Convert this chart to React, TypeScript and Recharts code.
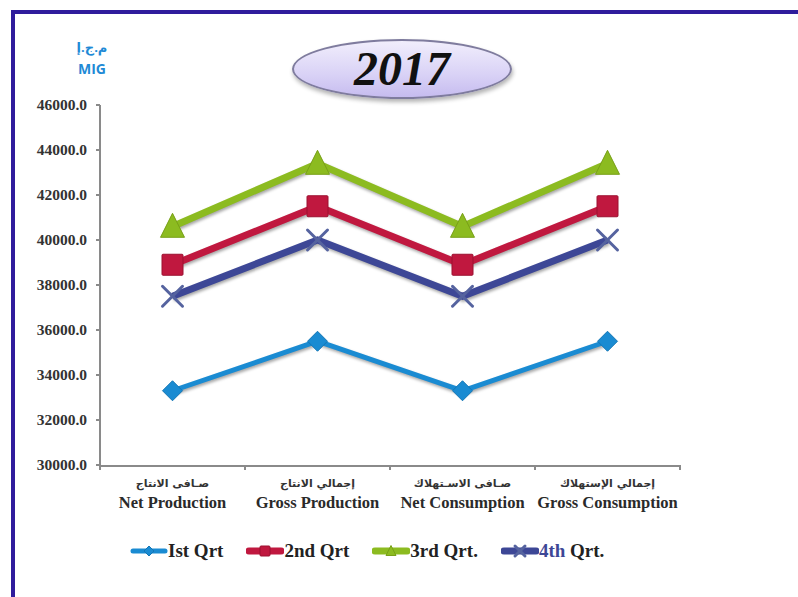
import React from "react";
import { LineChart, Line, XAxis, YAxis } from "recharts";

// categories (Arabic + English label lines)
const categoriesEn = ["Net Production", "Gross Production", "Net Consumption", "Gross Consumption"];
const categoriesAr = ["صـافى الانتاج", "إجمالي الانتاج", "صـافى الاسـتهلاك", "إجمالي الإستهلاك"];

// quarterly values
const q1 = [33300, 35500, 33300, 35500];
const q2 = [38900, 41500, 38900, 41500];
const q3 = [40600, 43400, 40600, 43400];
const q4 = [37500, 40000, 37500, 40000];

const yTicks = [30000, 32000, 34000, 36000, 38000, 40000, 42000, 44000, 46000];
// category boundaries (Excel puts the x ticks between categories)
const boundaryTicks = [-0.5, 0.5, 1.5, 2.5, 3.5];

const chartData = categoriesEn.map((en, i) => ({
  en,
  pos: i,
  q1: q1[i],
  q2: q2[i],
  q3: q3[i],
  q4: q4[i],
}));

const C1 = "#1a8bd2";
const C2 = "#c0183f";
const C3 = "#8cbb20";
const C4 = "#3d4796";
const C4X = "#55639f";
const AXIS = "#8a8a8a";

const serif = "'Liberation Serif', 'Times New Roman', 'DejaVu Serif', serif";

// markers
const DiamondDot = ({ cx, cy, size = 10 }: any) => (
  <path
    d={`M${cx} ${cy - size} L${cx + size} ${cy} L${cx} ${cy + size} L${cx - size} ${cy} Z`}
    fill={C1}
    stroke="#1476b5"
    strokeWidth={1}
  />
);

const SquareDot = ({ cx, cy, size = 10.5 }: any) => (
  <rect x={cx - size} y={cy - size} width={size * 2} height={size * 2} fill={C2} stroke="#9c1030" strokeWidth={1} rx={1} />
);

const TriangleDot = ({ cx, cy, size = 12 }: any) => (
  <path
    d={`M${cx} ${cy - size * 1.1} L${cx + size} ${cy + size * 0.9} L${cx - size} ${cy + size * 0.9} Z`}
    fill={C3}
    stroke="#78a018"
    strokeWidth={1}
  />
);

const CrossDot = ({ cx, cy, size = 10 }: any) => (
  <g stroke={C4X} strokeWidth={3} strokeLinecap="round">
    <line x1={cx - size} y1={cy - size} x2={cx + size} y2={cy + size} />
    <line x1={cx - size} y1={cy + size} x2={cx + size} y2={cy - size} />
  </g>
);

const CategoryTick = ({ x, y, payload }: any) => (
  <g transform={`translate(${x},${y})`}>
    <text
      x={0}
      y={13}
      textAnchor="middle"
      fontFamily="'DejaVu Sans', 'Noto Sans', sans-serif"
      fontSize={11}
      fontWeight="bold"
      fill="#333"
    >
      {categoriesAr[payload.index]}
    </text>
    <text x={0} y={34} textAnchor="middle" fontFamily={serif} fontSize={16.5} fontWeight="bold" fill="#2a2a2a">
      {payload.value}
    </text>
  </g>
);

const ValueTick = ({ x, y, payload }: any) => (
  <text x={x} y={y} dy={5} textAnchor="end" fontFamily={serif} fontSize={15.5} fontWeight="bold" fill="#333">
    {Number(payload.value).toFixed(1)}
  </text>
);

const legendItems = [
  { label: "Ist Qrt", color: C1, Dot: DiamondDot, width: 5, highlight: "" },
  { label: "2nd Qrt", color: C2, Dot: SquareDot, width: 7, highlight: "" },
  { label: "3rd Qrt.", color: C3, Dot: TriangleDot, width: 7, highlight: "" },
  { label: " Qrt.", color: C4, Dot: CrossDot, width: 7, highlight: "4th" },
];

const LegendIcon = ({ color, Dot, width }: any) => (
  <svg width={38} height={22} style={{ display: "block" }}>
    <line x1={3} y1={11} x2={35} y2={11} stroke={color} strokeWidth={width} strokeLinecap="round" />
    <Dot cx={19} cy={11} size={5} />
  </svg>
);

const App: React.FC = () => {
  return (
    <div
      style={{
        position: "fixed",
        left: 0,
        top: 0,
        width: 798,
        height: 597,
        background: "#fff",
        overflow: "hidden",
      }}
    >
      <style>{`.recharts-line-curve { filter: drop-shadow(1px 2px 1.5px rgba(0,0,0,0.35)); }`}</style>
      {/* frame */}
      <div
        style={{
          position: "absolute",
          left: 11,
          top: 10,
          width: 784,
          height: 583,
          borderTop: "4px solid #2f1c9c",
          borderLeft: "4px solid #2f1c9c",
          borderRight: "1px solid #d4d4dc",
          borderBottom: "1px solid #c8c8d0",
        }}
      />

      {/* logo */}
      <div
        style={{
          position: "absolute",
          left: 70,
          top: 36,
          width: 44,
          textAlign: "center",
          color: "#1f8ad6",
          fontFamily: "'Open Sans', 'DejaVu Sans', sans-serif",
          fontWeight: "bold",
          lineHeight: "22px",
        }}
      >
        <div style={{ fontSize: 13 }}>م.ج.إ</div>
        <div style={{ fontSize: 14 }}>MIG</div>
      </div>

      {/* title ellipse */}
      <div
        style={{
          position: "absolute",
          left: 292,
          top: 39,
          width: 216,
          height: 56,
          borderRadius: "50%",
          border: "2px solid #7f7c9e",
          background: "linear-gradient(180deg, #f1eefc 0%, #d9d2f6 60%, #c6bcef 100%)",
          boxShadow: "1px 3px 4px rgba(0,0,0,0.3)",
          display: "flex",
          alignItems: "center",
          justifyContent: "center",
          fontFamily: serif,
          fontStyle: "italic",
          fontWeight: "bold",
          fontSize: 48,
          color: "#111",
          lineHeight: 1,
        }}
      >
        2017
      </div>

      <div style={{ position: "absolute", left: 0, top: 0 }}>
        <LineChart width={798} height={597} data={chartData} margin={{ top: 105, right: 118, bottom: 71, left: 0 }}>
          <XAxis
            xAxisId="bounds"
            dataKey="pos"
            type="number"
            domain={[-0.5, 3.5]}
            allowDataOverflow
            ticks={boundaryTicks}
            interval={0}
            height={1}
            axisLine={false}
            tickLine={{ stroke: AXIS, strokeWidth: 2 }}
            tickSize={5}
            tickFormatter={() => ""}
          />
          <XAxis
            xAxisId="cat"
            dataKey="en"
            scale="band"
            height={60}
            interval={0}
            tickLine={false}
            axisLine={{ stroke: AXIS, strokeWidth: 2 }}
            tick={<CategoryTick />}
          />
          <YAxis
            width={100}
            domain={[30000, 46000]}
            ticks={yTicks}
            axisLine={{ stroke: AXIS, strokeWidth: 2 }}
            tickLine={{ stroke: AXIS, strokeWidth: 2 }}
            tickSize={4}
            tickMargin={9}
            tick={<ValueTick />}
          />
          <Line xAxisId="cat" dataKey="q1" name="Ist Qrt" stroke={C1} strokeWidth={5} dot={<DiamondDot />} activeDot={false} isAnimationActive={false} />
          <Line xAxisId="cat" dataKey="q2" name="2nd Qrt" stroke={C2} strokeWidth={7} dot={<SquareDot />} activeDot={false} isAnimationActive={false} />
          <Line xAxisId="cat" dataKey="q3" name="3rd Qrt." stroke={C3} strokeWidth={7} dot={<TriangleDot />} activeDot={false} isAnimationActive={false} />
          <Line xAxisId="cat" dataKey="q4" name="4th Qrt." stroke={C4} strokeWidth={7} dot={<CrossDot />} activeDot={false} isAnimationActive={false} />
        </LineChart>
      </div>

      {/* legend */}
      <div
        style={{
          position: "absolute",
          left: 130,
          top: 540,
          display: "flex",
          alignItems: "center",
          gap: 23,
          fontFamily: serif,
          fontWeight: "bold",
          fontSize: 19,
          color: "#222",
        }}
      >
        {legendItems.map((item) => (
          <div key={item.label} style={{ display: "flex", alignItems: "center" }}>
            <LegendIcon color={item.color} Dot={item.Dot} width={item.width} />
            <span>
              {item.highlight && <span style={{ color: C4 }}>{item.highlight}</span>}
              {item.label}
            </span>
          </div>
        ))}
      </div>
    </div>
  );
};

export default App;
